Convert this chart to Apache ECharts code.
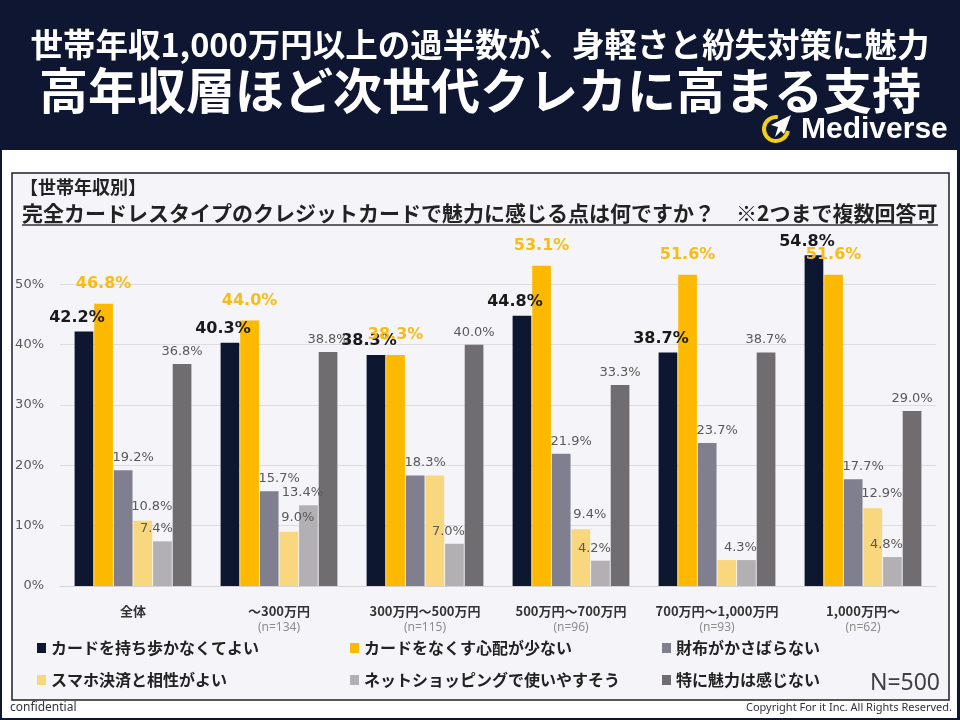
<!DOCTYPE html>
<html>
<head>
<meta charset="utf-8">
<title>世帯年収別 完全カードレスタイプのクレジットカードの魅力</title>
<script src="https://cdn.jsdelivr.net/npm/echarts@6/dist/echarts.min.js"></script>
<style>
  html, body { margin: 0; padding: 0; background: #0e1632; }
  #chart { width: 960px; height: 720px; }
</style>
</head>
<body>
<div id="chart"></div>
<script>
// 世帯年収別の回答（%）
const categories = ['全体', '～300万円', '300万円～500万円', '500万円～700万円', '700万円～1,000万円', '1,000万円～'];
const sampleSizes = ['', '(n=134)', '(n=115)', '(n=96)', '(n=93)', '(n=62)'];
const seriesNames = [
  'カードを持ち歩かなくてよい',
  'カードをなくす心配が少ない',
  '財布がかさばらない',
  'スマホ決済と相性がよい',
  'ネットショッピングで使いやすそう',
  '特に魅力は感じない'
];
const carryFree  = [42.2, 40.3, 38.3, 44.8, 38.7, 54.8];
const lessWorry  = [46.8, 44.0, 38.3, 53.1, 51.6, 51.6];
const slimWallet = [19.2, 15.7, 18.3, 21.9, 23.7, 17.7];
const phonePay   = [10.8, 9.0, 18.3, 9.4, 4.3, 12.9];
const onlineShop = [7.4, 13.4, 7.0, 4.2, 4.3, 4.8];
const noAppeal   = [36.8, 38.8, 40.0, 33.3, 38.7, 29.0];
const yTicks = [0, 10, 20, 30, 40, 50];

const colors = ['#0d1730', '#fcb900', '#7f7f8f', '#f9d77e', '#b2b0b2', '#706d70'];
const jp = '"Noto Sans CJK JP", "Noto Sans", sans-serif';
const pct = p => p.value.toFixed(1) + '%';

const smallLabel = {
  show: true, position: 'top', distance: 6, formatter: pct,
  color: '#595959', fontFamily: 'DejaVu Sans', fontSize: 13
};

// 凡例は3列×2行、列ごとに位置をそろえる
const legendLeft = [37, 350, 662];
const legendTop = [640, 672];
const legends = seriesNames.map((name, i) => ({
  data: [name], left: legendLeft[i % 3], top: legendTop[Math.floor(i / 3)],
  padding: 0, icon: 'rect', itemWidth: 9, itemHeight: 10, itemTextGap: 6,
  textStyle: { fontFamily: jp, fontSize: 16, fontWeight: 'bold', color: '#222222' }
}));

var myChart = echarts.init(document.getElementById('chart'));
var option = {
  backgroundColor: '#0e1632',
  animation: false,
  color: colors,
  graphic: [
    // 背景
    { type: 'rect', z: -10, shape: { x: 2, y: 150, width: 955, height: 568 }, style: { fill: '#ffffff' } },
    { type: 'rect', z: -9, shape: { x: 12, y: 173, width: 937, height: 527 }, style: { fill: '#f5f4f8', stroke: '#1e1e28', lineWidth: 1.5 } },
    // タイトル
    { type: 'text', x: 480, y: 45, style: { text: '世帯年収1,000万円以上の過半数が、身軽さと紛失対策に魅力', fill: '#ffffff',
        font: 'bold 32.5px ' + jp, align: 'center', verticalAlign: 'middle', textAlign: 'center', textVerticalAlign: 'middle' } },
    { type: 'text', x: 480, y: 90, style: { text: '高年収層ほど次世代クレカに高まる支持', fill: '#ffffff',
        font: 'bold 49px ' + jp, align: 'center', verticalAlign: 'middle', textAlign: 'center', textVerticalAlign: 'middle' } },
    // ロゴ
    { type: 'arc', shape: { cx: 776, cy: 129, r: 12, startAngle: Math.PI * 0.05, endAngle: Math.PI * 1.55 },
      style: { stroke: '#f4cf1a', lineWidth: 4, fill: null } },
    { type: 'polygon', shape: { points: [[791, 115], [771, 125], [778, 127], [775, 137], [781, 131], [784, 134]] },
      style: { fill: '#ffffff' } },
    { type: 'text', x: 801, y: 130, style: { text: 'Mediverse', fill: '#ffffff',
        font: 'bold 30px "Liberation Sans", Arial, sans-serif', align: 'left', verticalAlign: 'middle', textAlign: 'left', textVerticalAlign: 'middle' } },
    // 設問
    { type: 'text', x: 20, y: 187, style: { text: '【世帯年収別】', fill: '#222222',
        font: 'bold 18px ' + jp, align: 'left', verticalAlign: 'middle', textAlign: 'left', textVerticalAlign: 'middle' } },
    { type: 'text', x: 22, y: 213, style: { text: '完全カードレスタイプのクレジットカードで魅力に感じる点は何ですか？　※2つまで複数回答可', fill: '#222222',
        font: 'bold 21px ' + jp, align: 'left', verticalAlign: 'middle', textAlign: 'left', textVerticalAlign: 'middle' } },
    { type: 'line', shape: { x1: 22, y1: 225, x2: 938, y2: 225 }, style: { stroke: '#333333', lineWidth: 1.5 } },
    // 注記
    { type: 'text', x: 940, y: 683, style: { text: 'N=500', fill: '#404040',
        font: '23px "Noto Sans", sans-serif', align: 'right', verticalAlign: 'middle', textAlign: 'right', textVerticalAlign: 'middle' } },
    { type: 'text', x: 10, y: 708, style: { text: 'confidential', fill: '#333333',
        font: '12px "Noto Sans", sans-serif', align: 'left', verticalAlign: 'middle', textAlign: 'left', textVerticalAlign: 'middle' } },
    { type: 'text', x: 952, y: 708, style: { text: 'Copyright For it Inc. All Rights Reserved.', fill: '#333333',
        font: '11px "Noto Sans", sans-serif', align: 'right', verticalAlign: 'middle', textAlign: 'right', textVerticalAlign: 'middle' } }
  ],
  legend: legends,
  grid: { left: 60, right: 24, top: 224, bottom: 134 },
  xAxis: {
    type: 'category',
    data: categories,
    axisLine: { lineStyle: { color: '#d4d4d8' } },
    axisTick: { length: 5, lineStyle: { color: '#d4d4d8' } },
    axisLabel: {
      margin: 16, interval: 0, hideOverlap: false,
      formatter: (v, i) => '{c|' + v + '}\n{n|' + (sampleSizes[i] || ' ') + '}',
      rich: {
        c: { fontFamily: jp, fontSize: 13, fontWeight: 'bold', color: '#333333', lineHeight: 18 },
        n: { fontFamily: '"Noto Sans", sans-serif', fontSize: 12, color: '#8c8c8c', lineHeight: 16 }
      }
    }
  },
  yAxis: {
    type: 'value',
    min: 0, max: 60, interval: 10,
    axisLabel: {
      margin: 16, showMaxLabel: false,
      formatter: v => yTicks.includes(v) ? v + '%' : '',
      fontFamily: 'DejaVu Sans', fontSize: 13, color: '#595959'
    },
    splitLine: { showMaxLine: false, lineStyle: { color: '#dcdce2' } }
  },
  series: [
    { name: seriesNames[0], type: 'bar', data: carryFree, barCategoryGap: '20%', barGap: '5%',
      label: { show: true, position: 'top', distance: 6, offset: [-7, 0], formatter: pct,
        color: '#1a1a1a', fontFamily: 'DejaVu Sans', fontWeight: 'bold', fontSize: 16 } },
    { name: seriesNames[1], type: 'bar', data: lessWorry,
      label: { show: true, position: 'top', distance: 12, formatter: pct,
        color: '#f7bd14', fontFamily: 'DejaVu Sans', fontWeight: 'bold', fontSize: 16 } },
    { name: seriesNames[2], type: 'bar', data: slimWallet,
      label: Object.assign({}, smallLabel, { offset: [10, 0] }) },
    { name: seriesNames[3], type: 'bar', data: phonePay,
      // 隣の棒と同じ値のときはラベルを1つにまとめる
      label: Object.assign({}, smallLabel, { offset: [9, -2],
        formatter: p => (p.value === slimWallet[p.dataIndex] || p.value === onlineShop[p.dataIndex]) ? '' : pct(p) }) },
    { name: seriesNames[4], type: 'bar', data: onlineShop,
      label: Object.assign({}, smallLabel, { offset: [-6, 0] }) },
    { name: seriesNames[5], type: 'bar', data: noAppeal,
      label: smallLabel }
  ]
};
myChart.setOption(option);
</script>
</body>
</html>
